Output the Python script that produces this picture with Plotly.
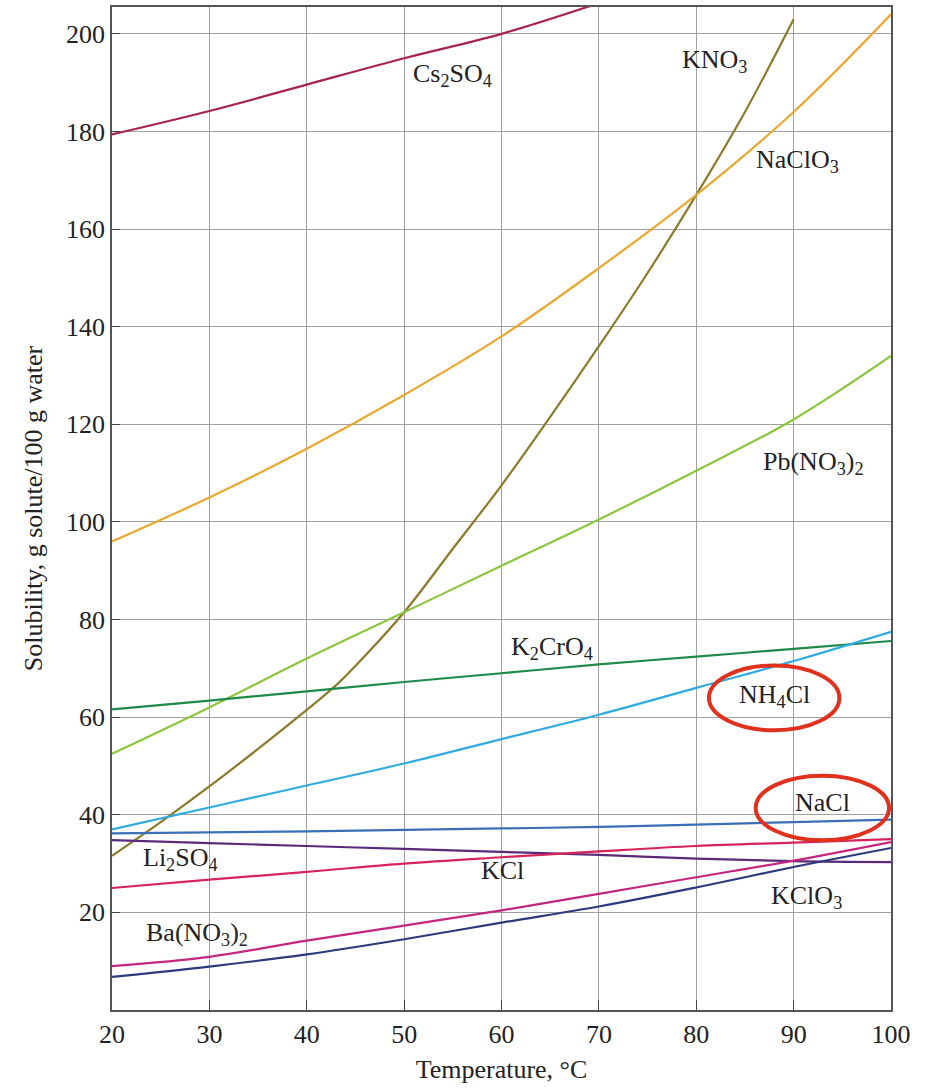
import plotly.graph_objects as go

# Temperatures (°C) and solubilities (g solute / 100 g water)
T9 = [20, 30, 40, 50, 60, 70, 80, 90, 100]

cs2so4_T = [20, 30, 40, 50, 60, 70]
cs2so4 = [179.4, 184.2, 189.6, 195.0, 200.0, 206.3]

kno3_T = [20, 25, 30, 35, 40, 43, 45, 50, 55, 60, 65, 70, 75, 80, 85, 90]
kno3 = [31.6, 38.5, 45.8, 53.5, 61.5, 66.5, 70.5, 81.5, 94.5, 107.5, 121.5, 136, 151, 167, 184, 203]

naclo3 = [96, 105, 115, 126, 138, 152, 167, 184, 204]
pbno32 = [52.5, 62, 72, 81.5, 91, 100.5, 110.5, 121, 134]
k2cro4 = [61.6, 63.4, 65.3, 67.2, 69.0, 70.8, 72.4, 74.0, 75.6]
nh4cl = [37, 41.5, 46, 50.5, 55.5, 60.5, 66, 71.5, 77.5]
nacl = [36.2, 36.4, 36.6, 36.9, 37.2, 37.5, 38.0, 38.5, 39.0]
li2so4 = [34.8, 34.2, 33.6, 33.0, 32.4, 31.8, 31.0, 30.5, 30.3]
kcl = [25.0, 26.7, 28.3, 30.0, 31.3, 32.5, 33.6, 34.3, 35.0]
bano32 = [9.0, 10.9, 14.2, 17.3, 20.4, 23.8, 27.2, 30.6, 34.4]
kclo3 = [6.8, 8.9, 11.4, 14.5, 17.9, 21.2, 25.1, 29.3, 33.2]

series = [
    ("Cs2SO4", cs2so4_T, cs2so4, "#a8234f"),
    ("KNO3", kno3_T, kno3, "#8a7a2a"),
    ("NaClO3", T9, naclo3, "#e9a830"),
    ("Pb(NO3)2", T9, pbno32, "#8cc63f"),
    ("K2CrO4", T9, k2cro4, "#1e8a4a"),
    ("NH4Cl", T9, nh4cl, "#2eaae1"),
    ("NaCl", T9, nacl, "#3a6fb5"),
    ("Li2SO4", T9, li2so4, "#5a2a7a"),
    ("KCl", T9, kcl, "#d6245a"),
    ("Ba(NO3)2", T9, bano32, "#c4267f"),
    ("KClO3", T9, kclo3, "#2a3a7a"),
]

labels = [
    ("Cs<sub>2</sub>SO<sub>4</sub>", 55, 191.5),
    ("KNO<sub>3</sub>", 81.9, 194.5),
    ("NaClO<sub>3</sub>", 90.4, 174),
    ("Pb(NO<sub>3</sub>)<sub>2</sub>", 92, 112),
    ("K<sub>2</sub>CrO<sub>4</sub>", 65.2, 74.2),
    ("NH<sub>4</sub>Cl", 88, 64.4),
    ("NaCl", 93, 42.5),
    ("Li<sub>2</sub>SO<sub>4</sub>", 27, 31),
    ("KCl", 60.1, 28.6),
    ("KClO<sub>3</sub>", 91.3, 23.2),
    ("Ba(NO<sub>3</sub>)<sub>2</sub>", 28.7, 15.6),
]

fig = go.Figure()
for name, xs, ys, col in series:
    fig.add_trace(go.Scatter(x=xs, y=ys, mode="lines", name=name,
                             line=dict(color=col, width=2.2, shape="spline"),
                             showlegend=False, cliponaxis=True))

serif = "Liberation Serif, Times New Roman, serif"
for txt, x, y in labels:
    fig.add_annotation(x=x, y=y, text=txt, showarrow=False,
                       font=dict(family=serif, size=26, color="#222"))

# red ellipses highlighting NH4Cl and NaCl
fig.add_shape(type="circle", xref="x", yref="y", x0=81.3, x1=94.7, y0=57.3, y1=70.6,
              line=dict(color="#e0301e", width=4))
fig.add_shape(type="circle", xref="x", yref="y", x0=86.1, x1=99.8, y0=34.8, y1=48,
              line=dict(color="#e0301e", width=4))

fig.update_layout(
    width=934, height=1089,
    margin=dict(l=112, r=43, t=5, b=79),
    paper_bgcolor="white", plot_bgcolor="white",
    font=dict(family=serif, size=26, color="#222"),
)
fig.update_xaxes(range=[20, 100], tickvals=[20, 30, 40, 50, 60, 70, 80, 90, 100],
                 showgrid=True, gridcolor="#a0a0a0", gridwidth=1,
                 showline=True, linecolor="#555", linewidth=1.5, mirror=True,
                 ticks="inside", ticklen=10, tickcolor="#444",
                 tickfont=dict(size=26),
                 title=dict(text="Temperature, °C", font=dict(size=26), standoff=12),
                 zeroline=False)
fig.update_yaxes(range=[0, 205.5], tickvals=[20, 40, 60, 80, 100, 120, 140, 160, 180, 200],
                 showgrid=True, gridcolor="#a0a0a0", gridwidth=1,
                 showline=True, linecolor="#555", linewidth=1.5, mirror=True,
                 ticks="inside", ticklen=8, tickcolor="#444",
                 tickfont=dict(size=26),
                 title=dict(text="Solubility, g solute/100 g water", font=dict(size=26), standoff=16),
                 zeroline=False)

fig.write_html("out.html", config={"displayModeBar": False},
               post_script="document.body.style.margin='0px';")
